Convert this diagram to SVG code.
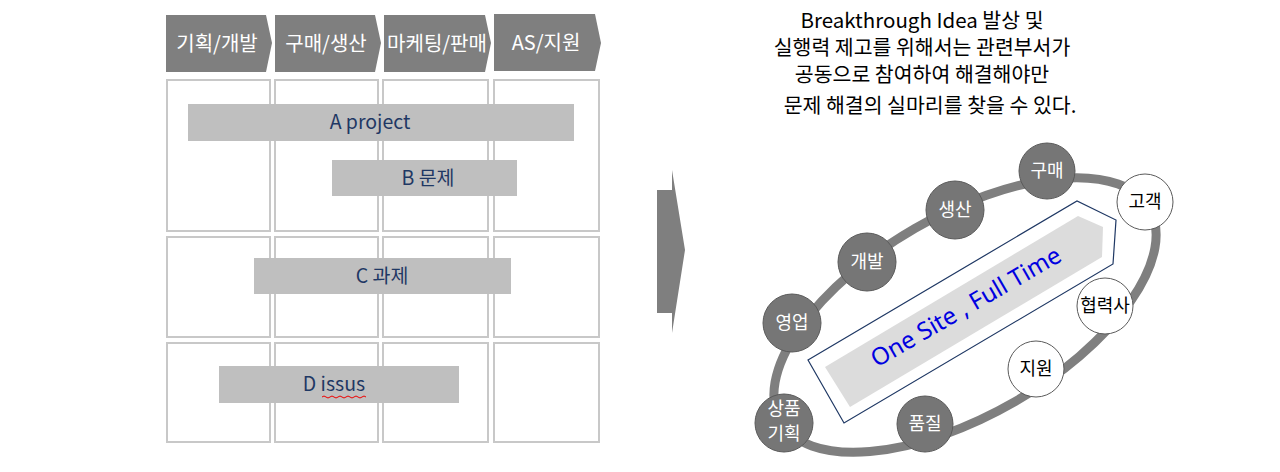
<svg xmlns="http://www.w3.org/2000/svg" width="1280" height="472" viewBox="0 0 1280 472">
<style>
text{font-family:"Noto Sans CJK KR","Noto Sans",sans-serif}
.hd{fill:#7f7f7f}
.hdt{fill:#fff;font-size:20px;text-anchor:middle}
.cell{fill:#fff;stroke:#c8c8c8;stroke-width:2}
.bar{fill:#bfbfbf}
.bt{fill:#1f3864;font-size:19.5px;text-anchor:middle}
.dk{fill:#767676;stroke:#5a5a5a;stroke-width:1}
.wh{fill:#fff;stroke:#5a5a5a;stroke-width:1}
.ct{font-size:18px;text-anchor:middle}
.top{font-size:20.5px;text-anchor:middle;fill:#000}
</style>
<g id="headers">
<polygon class="hd" points="166,15 266,15 272,43 266,72 166,72"/>
<polygon class="hd" points="275,15 375,15 381,43 375,72 275,72"/>
<polygon class="hd" points="384,15 485,15 491,43 485,72 384,72"/>
<polygon class="hd" points="494,14 595,14 601,43 595,71 494,71"/>
<text class="hdt" x="217" y="51">기획/개발</text>
<text class="hdt" x="326" y="51">구매/생산</text>
<text class="hdt" x="437" y="51">마케팅/판매</text>
<text class="hdt" x="546" y="50">AS/지원</text>
</g>
<g id="grid">
<rect class="cell" x="167" y="80" width="103" height="151"/>
<rect class="cell" x="275" y="80" width="103" height="151"/>
<rect class="cell" x="383" y="80" width="105" height="151"/>
<rect class="cell" x="494" y="80" width="105" height="151"/>
<rect class="cell" x="167" y="237" width="103" height="100"/>
<rect class="cell" x="275" y="237" width="103" height="100"/>
<rect class="cell" x="383" y="237" width="105" height="100"/>
<rect class="cell" x="494" y="237" width="105" height="100"/>
<rect class="cell" x="167" y="343" width="103" height="99"/>
<rect class="cell" x="275" y="343" width="103" height="99"/>
<rect class="cell" x="383" y="343" width="105" height="99"/>
<rect class="cell" x="494" y="343" width="105" height="99"/>
</g>
<g id="bars">
<rect class="bar" x="188" y="104" width="386" height="37"/>
<text class="bt" x="370" y="129">A project</text>
<rect class="bar" x="332" y="160" width="185" height="36"/>
<text class="bt" x="428" y="185">B 문제</text>
<rect class="bar" x="254" y="258" width="257" height="36"/>
<text class="bt" x="382" y="283">C 과제</text>
<rect class="bar" x="219" y="366" width="240" height="37"/>
<text class="bt" x="334" y="391">D issus</text>
<path d="M322,397 q2,-2 4,0 t4,0 t4,0 t4,0 t4,0 t4,0 t4,0 t4,0 t4,0 t4,0 t4,0" fill="none" stroke="#e00" stroke-width="1"/>
</g>
<g id="bigarrow">
<polygon fill="#7f7f7f" points="657,190 672,190 672,170 685,250 672,333 672,313 657,313"/>
</g>
<g id="caption">
<text class="top" x="922" y="28">Breakthrough Idea 발상 및</text>
<text class="top" x="922" y="55">실행력 제고를 위해서는 관련부서가</text>
<text class="top" x="922" y="82">공동으로 참여하여 해결해야만</text>
<text class="top" x="930" y="113">문제 해결의 실마리를 찾을 수 있다.</text>
</g>
<g id="connectors">
<ellipse cx="965" cy="315" rx="213" ry="100" transform="rotate(-30 965 315)" fill="none" stroke="#7f7f7f" stroke-width="9"/>
</g>
<g id="onesite">
<polygon points="808,360 1077,201 1116,220 1113,264 844,423" fill="#fff" stroke="#1f3864" stroke-width="1.2"/>
<polygon points="825,367 1078,216 1103,227 1102,257 850,407" fill="#dcdcdc"/>
<text x="966" y="315" font-size="24" fill="#0000e0" text-anchor="middle" transform="rotate(-30 966 307)" style="font-family:'Noto Sans',sans-serif">One Site , Full Time</text>
</g>
<g id="n-gumae"><circle class="dk" cx="1047" cy="171" r="28"/><text class="ct" x="1047" y="177" fill="#fff">구매</text></g>
<g id="n-saengsan"><circle class="dk" cx="955" cy="210" r="29"/><text class="ct" x="955" y="216" fill="#fff">생산</text></g>
<g id="n-gaebal"><circle class="dk" cx="867" cy="262" r="29"/><text class="ct" x="867" y="268" fill="#fff">개발</text></g>
<g id="n-yeongeop"><circle class="dk" cx="792" cy="323" r="29"/><text class="ct" x="792" y="329" fill="#fff">영업</text></g>
<g id="n-sangpum"><circle class="dk" cx="784" cy="423" r="29"/><text class="ct" x="784" y="415" fill="#fff">상품</text><text class="ct" x="784" y="440" fill="#fff">기획</text></g>
<g id="n-pumjil"><circle class="dk" cx="925" cy="424" r="28"/><text class="ct" x="925" y="430" fill="#fff">품질</text></g>
<g id="n-jiwon"><circle class="wh" cx="1036" cy="369" r="28"/><text class="ct" x="1036" y="375">지원</text></g>
<g id="n-hyeopryeok"><circle class="wh" cx="1105" cy="306" r="28"/><text class="ct" x="1105" y="312">협력사</text></g>
<g id="n-gogaek"><circle class="wh" cx="1145" cy="202" r="28"/><text class="ct" x="1145" y="208">고객</text></g>
</svg>
